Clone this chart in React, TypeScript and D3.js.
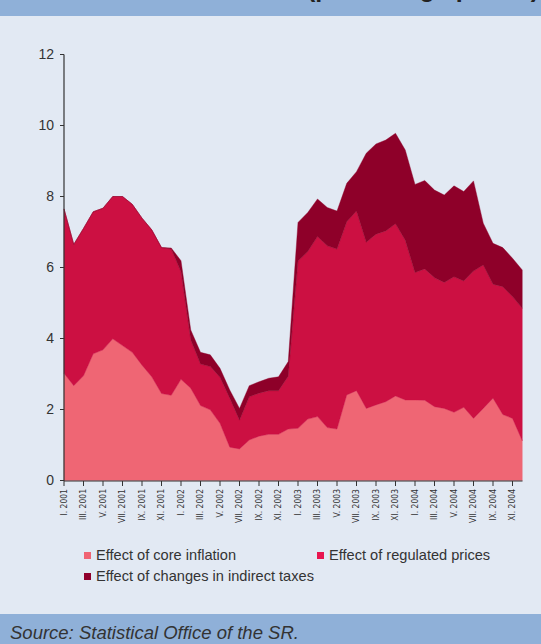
import React from "react";
import * as d3 from "d3";

const romans = ["I", "II", "III", "IV", "V", "VI", "VII", "VIII", "IX", "X", "XI", "XII"];
const years = [2001, 2002, 2003, 2004];
const months: string[] = years.flatMap((y) => romans.map((r) => `${r}. ${y}`));

const coreInflation = [
  3.02, 2.67, 2.95, 3.57, 3.68, 3.99, 3.8, 3.61, 3.25, 2.92, 2.45, 2.4,
  2.85, 2.6, 2.11, 1.99, 1.61, 0.94, 0.89, 1.14, 1.25, 1.3, 1.3, 1.45,
  1.47, 1.73, 1.8, 1.49, 1.45, 2.41, 2.53, 2.03, 2.13, 2.22, 2.38, 2.27,
  2.27, 2.26, 2.08, 2.03, 1.92, 2.06, 1.75, 2.03, 2.32, 1.86, 1.75, 1.12,
];
const regulatedPrices = [
  4.63, 3.98, 4.15, 4.0, 3.99, 4.01, 4.2, 4.17, 4.14, 4.14, 4.11, 4.12,
  3.03, 1.36, 1.17, 1.22, 1.3, 1.38, 0.81, 1.22, 1.21, 1.23, 1.23, 1.49,
  4.71, 4.72, 5.07, 5.12, 5.07, 4.88, 5.06, 4.68, 4.81, 4.81, 4.85, 4.5,
  3.59, 3.7, 3.63, 3.55, 3.82, 3.56, 4.15, 4.04, 3.21, 3.6, 3.43, 3.73,
];
const indirectTaxes = [
  0, 0, 0, 0, 0, 0, 0, 0, 0, 0, 0, 0.03,
  0.31, 0.28, 0.33, 0.33, 0.25, 0.23, 0.33, 0.31, 0.32, 0.35, 0.39, 0.41,
  1.09, 1.1, 1.06, 1.08, 1.07, 1.08, 1.11, 2.51, 2.54, 2.56, 2.55, 2.54,
  2.48, 2.49, 2.47, 2.46, 2.56, 2.52, 2.54, 1.18, 1.15, 1.1, 1.08, 1.08,
];
const yTicks = [0, 2, 4, 6, 8, 10, 12];

const seriesKeys = ["core", "regulated", "taxes"];
const seriesNames = [
  "Effect of core inflation",
  "Effect of regulated prices",
  "Effect of changes in indirect taxes",
];
const colors = ["#EF6674", "#CC1042", "#8E0029"];
const legendColors = ["#F06473", "#E8154F", "#90002C"];

const W = 541;
const H = 644;
const BG = "#E2E9F3";
const BAND = "#8FB0D8";
const TEXT = "#333333";

export default function App() {
  const table = months.map((m, i) => ({
    i,
    core: coreInflation[i],
    regulated: regulatedPrices[i],
    taxes: indirectTaxes[i],
  }));
  const stacked = d3.stack<any>().keys(seriesKeys)(table);

  const x = d3.scaleLinear().domain([0, months.length - 1]).range([64, 522.25]);
  const y = d3.scaleLinear().domain([0, 12]).range([480.5, 54.5]);

  const area = d3
    .area<any>()
    .x((d) => x(d.data.i))
    .y0((d) => y(d[0]))
    .y1((d) => y(d[1]));

  const xTickIdx = months.map((_, i) => i).filter((i) => i % 2 === 0);

  return (
    <svg
      width={W}
      height={H}
      style={{ position: "absolute", left: 0, top: 0, display: "block" }}
      fontFamily="'Liberation Sans', Arial, sans-serif"
    >
      <rect x={0} y={0} width={W} height={16} fill={BAND} />
      <rect x={0} y={16} width={W} height={H - 16} fill={BG} />
      <text
        x={539}
        y={-3}
        textAnchor="end"
        fontSize={25}
        fontWeight="bold"
        fill="#222"
      >
        (percentage points)
      </text>

      {stacked.map((s, k) => (
        <path key={s.key} d={area(s) || ""} fill={colors[k]} stroke={colors[k]} strokeWidth={0.4} />
      ))}

      {/* y axis */}
      <line x1={64} x2={64} y1={y(12)} y2={y(0) + 0.5} stroke={TEXT} strokeWidth={1.2} />
      {yTicks.map((t) => (
        <g key={t}>
          <line x1={60} x2={64} y1={y(t)} y2={y(t)} stroke={TEXT} strokeWidth={1} />
          <text x={54} y={y(t)} dy="0.35em" textAnchor="end" fontSize={14} fill={TEXT}>
            {t}
          </text>
        </g>
      ))}

      {/* x axis */}
      <line x1={64} x2={522.5} y1={481} y2={481} stroke={TEXT} strokeWidth={1.2} />
      {xTickIdx.map((i) => (
        <g key={i}>
          <line x1={x(i)} x2={x(i)} y1={481} y2={486} stroke={TEXT} strokeWidth={1} />
          <text
            transform={`translate(${x(i)},489) rotate(-90)`}
            textAnchor="end"
            dy="0.33em"
            fontSize={8.5}
            fontFamily="'Liberation Sans Narrow', 'DejaVu Sans Condensed', sans-serif"
            fill={TEXT}
          >
            {months[i]}
          </text>
        </g>
      ))}

      {/* legend */}
      {[
        { k: 0, lx: 84, ly: 552 },
        { k: 1, lx: 317, ly: 552 },
        { k: 2, lx: 84, ly: 573 },
      ].map(({ k, lx, ly }) => (
        <g key={k}>
          <rect x={lx} y={ly} width={7} height={7} fill={legendColors[k]} />
          <text x={lx + 12} y={ly + 8} fontSize={14.6} fill={TEXT}>
            {seriesNames[k]}
          </text>
        </g>
      ))}

      {/* source band */}
      <rect x={0} y={614} width={W} height={H - 614} fill={BAND} />
      <text x={10} y={639} fontSize={18.5} fontStyle="italic" fill={TEXT}>
        Source: Statistical Office of the SR.
      </text>
    </svg>
  );
}
